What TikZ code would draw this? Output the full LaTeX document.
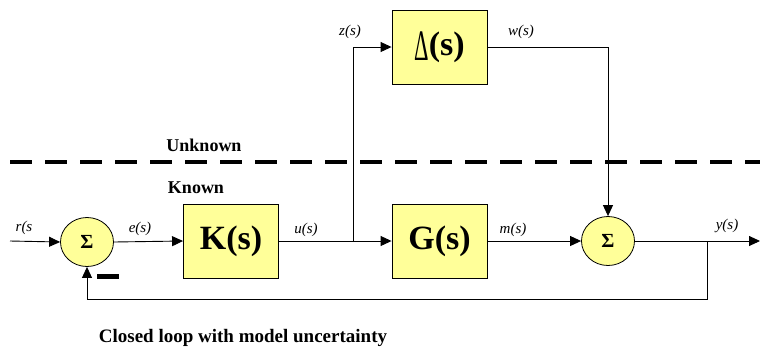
\documentclass[tikz,border=0pt]{standalone}
\usepackage{fontspec}
\setmainfont{Liberation Serif}
\usepackage{graphicx}
\usetikzlibrary{arrows.meta,shapes.geometric}
\definecolor{boxyellow}{RGB}{255,255,153}
\tikzset{
  blk/.style={draw=black, line width=0.9pt, fill=boxyellow, minimum width=95pt, minimum height=74pt, inner sep=0pt, font=\fontsize{34}{34}\selectfont\bfseries},
  sumnode/.style={ellipse, draw=black, line width=0.8pt, fill=boxyellow, minimum width=53pt, minimum height=49pt, inner sep=0pt, font=\fontsize{20}{20}\selectfont\bfseries},
  sig/.style={font=\fontsize{15}{15}\selectfont\itshape, inner sep=0pt},
  hdr/.style={font=\fontsize{18}{18}\selectfont\bfseries, inner sep=0pt},
  wire/.style={line width=0.9pt, draw=black},
  arr/.style={wire, -{Triangle[length=11pt, width=10pt]}}
}
\begin{document}
\begin{tikzpicture}[x=1pt, y=-1pt]
\useasboundingbox (0,0) rectangle (760,349);
% blocks
\node[sumnode] (s1) at (87,242) {Σ};
\node[blk] (K) at (231,241) {K(s)};
\node[blk] (G) at (439.5,241) {G(s)};
\node[blk] (D) at (439.5,47) {\raisebox{-0.35ex}{\scalebox{0.75}[1.45]{\mdseries\fontsize{30}{30}\selectfont Δ}}(s)};
\node[sumnode] (s2) at (608,241) {Σ};
% coordinates
\coordinate (rin) at (10,241);
\coordinate (b1) at (353,241);
\coordinate (b2) at (707,241);
\coordinate (yout) at (760,241);
\coordinate (fb) at (707,299);
% wires
\draw[arr] (rin) -- (s1.west);
\draw[arr] (s1.east) -- (K.west);
\draw[wire] (K.east) -- (b1);
\draw[arr] (b1) -- (G.west);
\draw[arr] (b1) |- (D.west);
\draw[arr] (D.east) -| (s2.north);
\draw[arr] (G.east) -- (s2.west);
\draw[wire] (s2.east) -- (b2);
\draw[arr] (b2) -- (yout);
\draw[arr] (b2) -- (fb) -| (s1.south);
% minus sign
\fill[black] (97,274) rectangle (119,279);
% dashed separator
\draw[line width=4pt, dash pattern=on 22pt off 13pt] (10,162) -- (760,162);
% labels
\node[sig] (lr) at (24,228) {r(s};
\node[sig] (le) at (140,229) {e(s)};
\node[sig] (lu) at (306,230) {u(s)};
\node[sig] (lm) at (513,230) {m(s)};
\node[sig] (lz) at (350,32) {z(s)};
\node[sig] (lw) at (521,32) {w(s)};
\node[sig] (ly) at (727,226) {y(s)};
\node[hdr] (unk) at (204,145) {Unknown};
\node[hdr] (kn) at (196,188) {Known};
\node[font=\fontsize{19}{19}\selectfont\bfseries, inner sep=0pt] (cap) at (243,338) {Closed loop with model uncertainty};
\end{tikzpicture}
\end{document}
